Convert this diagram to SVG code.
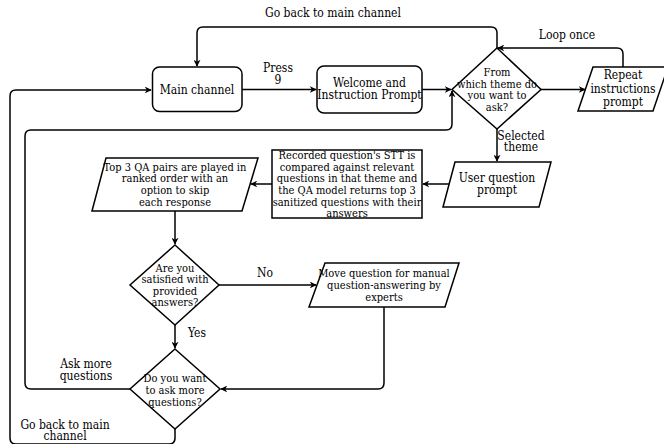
<svg xmlns="http://www.w3.org/2000/svg" width="664" height="444" viewBox="0 0 664 444">
<defs>
<style>
.t{font-family:'DejaVu Serif Condensed','DejaVu Serif',serif;font-stretch:condensed;fill:#000;text-anchor:middle}
.s11{font-size:11px}
.s12{font-size:12px}
.n{fill:#fff;stroke:#000;stroke-width:1.5}
.c{fill:none;stroke:#000;stroke-width:1.5;stroke-linejoin:round}
</style>
<marker id="a" viewBox="0 0 10 10" refX="9" refY="5" markerWidth="7" markerHeight="7" markerUnits="userSpaceOnUse" orient="auto">
<path d="M0,0 L10,5 L0,10 L3,5 z" fill="#000"/>
</marker>
</defs>
<rect width="664" height="444" fill="#fff"/>
<g id="connectors">
<path class="c" d="M497,48 V33 Q497,27 491,27 H203 Q197,27 197,33 V66" marker-end="url(#a)"/>
<path class="c" d="M242,89.5 H316" marker-end="url(#a)"/>
<path class="c" d="M422,89.5 H451" marker-end="url(#a)"/>
<path class="c" d="M541,89.5 H585" marker-end="url(#a)"/>
<path class="c" d="M623,67 V54 Q623,48 617,48 H498" marker-end="url(#a)"/>
<path class="c" d="M497,129 V161" marker-end="url(#a)"/>
<path class="c" d="M449,184 H423" marker-end="url(#a)"/>
<path class="c" d="M272,184 H251" marker-end="url(#a)"/>
<path class="c" d="M175,211 V244" marker-end="url(#a)"/>
<path class="c" d="M219,285 H316" marker-end="url(#a)"/>
<path class="c" d="M175,325 V348" marker-end="url(#a)"/>
<path class="c" d="M384,307 V383 Q384,389 378,389 H221" marker-end="url(#a)"/>
<path class="c" d="M130,389 H31 Q25,389 25,383 V136 Q25,130 31,130 H446 Q452,130 452,124 V91" marker-end="url(#a)"/>
<path class="c" d="M175,429 V438 Q175,444 169,444 H16 Q10,444 10,438 V96 Q10,90 16,90 H151" marker-end="url(#a)"/>
</g>
<g id="labels" class="t s12">
<text x="333" y="17">Go back to main channel</text>
<text x="278" y="72">Press</text>
<text x="278" y="84">9</text>
<text x="567" y="39">Loop once</text>
<text x="521" y="140">Selected</text>
<text x="521" y="151">theme</text>
<text x="265" y="277">No</text>
<text x="197" y="337">Yes</text>
<text x="86" y="368">Ask more</text>
<text x="86" y="380">questions</text>
<text x="65" y="429">Go back to main</text>
<text x="65" y="440">channel</text>
</g>
<g id="main-channel">
<rect class="n" x="152.5" y="67" width="89.5" height="44.5" rx="7"/>
<text class="t s12" x="197" y="93.5">Main channel</text>
</g>
<g id="welcome">
<rect class="n" x="317" y="66" width="105" height="47" rx="7"/>
<text class="t s12" x="369.5" y="87">Welcome and</text>
<text class="t s12" x="369.5" y="99">Instruction Prompt</text>
</g>
<g id="theme-decision">
<polygon class="n" points="497,48 541,89.5 497,129 452,89.5"/>
<text class="t s11" x="497" y="76">From</text>
<text class="t s11" x="497" y="87.5">which theme do</text>
<text class="t s11" x="497" y="99">you want to</text>
<text class="t s11" x="497" y="110.5">ask?</text>
</g>
<g id="repeat">
<polygon class="n" points="593,67 668,67 653,111 578,111"/>
<text class="t s12" x="623" y="79">Repeat</text>
<text class="t s12" x="623" y="93">instructions</text>
<text class="t s12" x="623" y="106">prompt</text>
</g>
<g id="user-question">
<polygon class="n" points="455,162 551,162 539,207 443,207"/>
<text class="t s12" x="497" y="182">User question</text>
<text class="t s12" x="497" y="194">prompt</text>
</g>
<g id="stt-compare">
<rect class="n" x="272" y="150" width="150" height="68"/>
<text class="t s11" x="347" y="159">Recorded question's STT is</text>
<text class="t s11" x="347" y="171">compared against relevant</text>
<text class="t s11" x="347" y="182">questions in that theme and</text>
<text class="t s11" x="347" y="194">the QA model returns top 3</text>
<text class="t s11" x="347" y="206">sanitized questions with their</text>
<text class="t s11" x="347" y="217">answers</text>
</g>
<g id="top3">
<polygon class="n" points="106,158 258,158 242,211 92,211"/>
<text class="t s11" x="175" y="171">Top 3 QA pairs are played in</text>
<text class="t s11" x="175" y="182">ranked order with an</text>
<text class="t s11" x="175" y="194">option to skip</text>
<text class="t s11" x="175" y="206">each response</text>
</g>
<g id="satisfied">
<polygon class="n" points="175,245 219,285 175,325 130,285"/>
<text class="t s11" x="175" y="272">Are you</text>
<text class="t s11" x="175" y="283">satisfied with</text>
<text class="t s11" x="175" y="295">provided</text>
<text class="t s11" x="175" y="306">answers?</text>
</g>
<g id="manual">
<polygon class="n" points="325,263 459,263 445,307 309,307"/>
<text class="t s11" x="384" y="277">Move question for manual</text>
<text class="t s11" x="384" y="289">question-answering by</text>
<text class="t s11" x="384" y="301">experts</text>
</g>
<g id="ask-more">
<polygon class="n" points="175,349 220,389 175,429 130,389"/>
<text class="t s11" x="175" y="382">Do you want</text>
<text class="t s11" x="175" y="394">to ask more</text>
<text class="t s11" x="175" y="406">questions?</text>
</g>
</svg>
